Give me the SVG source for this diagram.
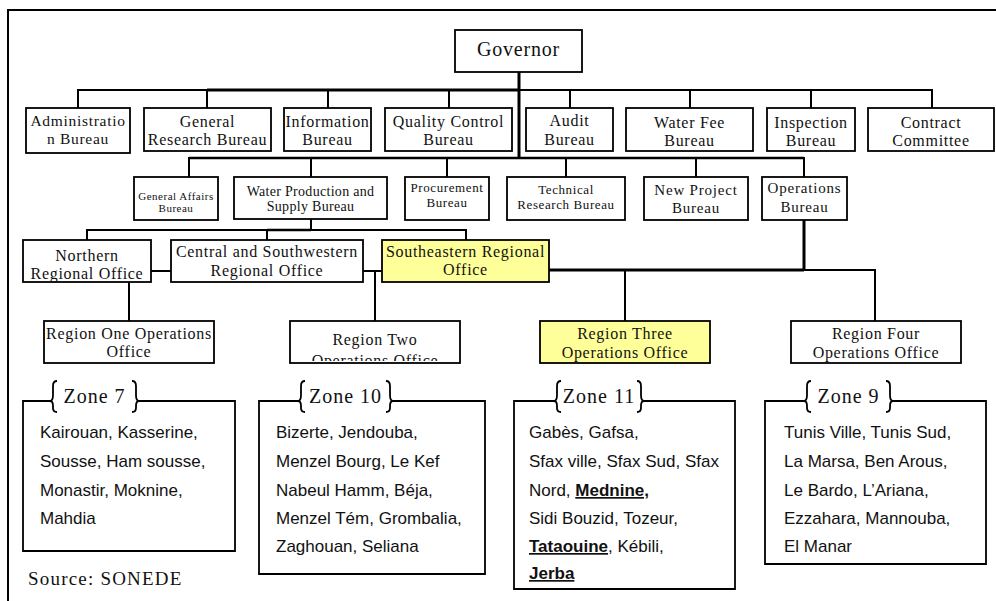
<svg xmlns="http://www.w3.org/2000/svg" width="996" height="601" viewBox="0 0 996 601">
<defs>
<style>
.box{fill:#fff;stroke:#000;stroke-width:1.8}
.hl{fill:#ffff99}
.t{font-family:"Liberation Serif","Times New Roman",serif;font-size:16px;letter-spacing:0.7px;text-anchor:middle;fill:#111}
.s14{font-size:14px;letter-spacing:0.3px}
.s15{font-size:15px;letter-spacing:0.8px}
.s13{font-size:13px;letter-spacing:0.6px}
.s11{font-size:11px;letter-spacing:0.5px}
.zl{font-family:"Liberation Serif","Times New Roman",serif;font-size:20px;letter-spacing:1px;text-anchor:middle;fill:#111}
.z{font-family:"Liberation Sans",Arial,sans-serif;font-size:17px;fill:#111}
.b{font-weight:bold;text-decoration:underline}
.c{stroke:#000;stroke-width:2;fill:none}
.ck{stroke:#000;stroke-width:3;fill:none}
.br{stroke:#000;stroke-width:1.8;fill:none}
</style>
<clipPath id="clip2"><rect x="290" y="321" width="170" height="40"/></clipPath>
</defs>
<rect width="996" height="601" fill="#fff"/>
<path d="M8,601 V10 H996" class="c"/>

<g id="connectors">
<line x1="519" y1="72" x2="519" y2="158" class="ck"/>
<path d="M78,108 V90 H932 V108" class="c"/>
<line x1="207" y1="90" x2="519" y2="90" class="ck"/>
<path d="M207,90 V108 M328,90 V108 M449,90 V108 M570,90 V108 M690,90 V108 M811,90 V108" class="c"/>
<path d="M189,177 V158 H804 V177" class="c"/>
<line x1="189" y1="158" x2="804" y2="158" stroke="#000" stroke-width="2.5"/>
<path d="M311,158 V177 M447,158 V177 M566,158 V177 M696,158 V177" class="c"/>
<path d="M311,219 V230 M87,240 V230 H466 V240 M267,230 V240" class="c"/>
<line x1="267" y1="230" x2="311" y2="230" stroke="#000" stroke-width="2.5"/>
<path d="M151,271 H171 M363,271 H382 M375,271 V321 M129,282 V321" class="c"/>
<line x1="804" y1="220" x2="804" y2="271" class="ck"/>
<line x1="549" y1="270" x2="804" y2="270" class="ck"/>
<path d="M804,270 H875 V321 M625,270 V321" class="c"/>
</g>

<g id="governor"><rect x="455" y="30" width="127" height="42" class="box"/><text x="518.5" y="56" class="t" style="font-size:20px;letter-spacing:0.8px">Governor</text></g>

<g id="admin"><rect x="26" y="108" width="104" height="45" class="box"/><text x="78" y="126" class="t" style="font-size:15.5px">Administratio</text><text x="78" y="144" class="t" style="font-size:15.5px">n Bureau</text></g>
<g id="general-research"><rect x="144" y="108" width="127" height="43" class="box"/><text x="207.5" y="127" class="t">General</text><text x="207.5" y="145" class="t">Research Bureau</text></g>
<g id="information"><rect x="284" y="108" width="87" height="43" class="box"/><text x="327.5" y="127" class="t">Information</text><text x="327.5" y="145" class="t">Bureau</text></g>
<g id="quality"><rect x="385" y="108" width="127" height="43" class="box"/><text x="448.5" y="127" class="t">Quality Control</text><text x="448.5" y="145" class="t">Bureau</text></g>
<g id="audit"><rect x="526" y="108" width="87" height="43" class="box"/><text x="569.5" y="126" class="t">Audit</text><text x="569.5" y="145" class="t">Bureau</text></g>
<g id="water-fee"><rect x="626" y="108" width="127" height="43" class="box"/><text x="689.5" y="128" class="t">Water Fee</text><text x="689.5" y="146" class="t">Bureau</text></g>
<g id="inspection"><rect x="767" y="108" width="88" height="43" class="box"/><text x="811" y="128" class="t">Inspection</text><text x="811" y="146" class="t">Bureau</text></g>
<g id="contract"><rect x="868" y="108" width="126" height="43" class="box"/><text x="931" y="128" class="t">Contract</text><text x="931" y="146" class="t">Committee</text></g>

<g id="general-affairs"><rect x="134" y="177" width="84" height="43" class="box"/><text x="176" y="200" class="t s11">General Affairs</text><text x="176" y="212" class="t s11">Bureau</text></g>
<g id="water-production"><rect x="234" y="177" width="153" height="42" class="box"/><text x="310.5" y="196" class="t s14">Water Production and</text><text x="310.5" y="211" class="t s14">Supply Bureau</text></g>
<g id="procurement"><rect x="405" y="177" width="84" height="43" class="box"/><text x="447" y="192" class="t s13">Procurement</text><text x="447" y="207" class="t s13">Bureau</text></g>
<g id="technical"><rect x="507" y="177" width="118" height="43" class="box"/><text x="566" y="194" class="t s13">Technical</text><text x="566" y="209" class="t s13">Research Bureau</text></g>
<g id="new-project"><rect x="644" y="177" width="104" height="43" class="box"/><text x="696" y="195" class="t s15">New Project</text><text x="696" y="213" class="t s15">Bureau</text></g>
<g id="operations"><rect x="762" y="177" width="85" height="43" class="box"/><text x="804.5" y="193" class="t s15">Operations</text><text x="804.5" y="212" class="t s15">Bureau</text></g>

<g id="northern"><rect x="23" y="240" width="128" height="42" class="box"/><text x="87" y="261" class="t">Northern</text><text x="87" y="279" class="t">Regional Office</text></g>
<g id="central"><rect x="171" y="240" width="192" height="42" class="box"/><text x="267" y="257" class="t">Central and Southwestern</text><text x="267" y="276" class="t">Regional Office</text></g>
<g id="southeastern"><rect x="382" y="240" width="167" height="42" class="box hl"/><text x="465.5" y="257" class="t">Southeastern Regional</text><text x="465.5" y="275" class="t">Office</text></g>

<g id="region-one"><rect x="44" y="321" width="170" height="42" class="box"/><text x="129" y="339" class="t">Region One Operations</text><text x="129" y="357" class="t">Office</text></g>
<g id="region-two"><rect x="290" y="321" width="170" height="42" class="box"/><g clip-path="url(#clip2)"><text x="375" y="345" class="t">Region Two</text><text x="375" y="366" class="t">Operations Office</text></g></g>
<g id="region-three"><rect x="540" y="321" width="170" height="42" class="box hl"/><text x="625" y="339" class="t">Region Three</text><text x="625" y="358" class="t">Operations Office</text></g>
<g id="region-four"><rect x="791" y="321" width="170" height="42" class="box"/><text x="876" y="339" class="t">Region Four</text><text x="876" y="358" class="t">Operations Office</text></g>

<g id="zone7">
<path d="M50,401 H23 V551 H235 V401 H139" class="br"/>
<path d="M57,381 Q53,381 53,386 V395 Q53,401 50,401 Q53,401 53,406 V408 Q53,412 57,412" class="br"/>
<path d="M132,381 Q136,381 136,386 V395 Q136,401 139,401 Q136,401 136,406 V408 Q136,412 132,412" class="br"/>
<text x="94.5" y="403" class="zl">Zone 7</text>
<text class="z"><tspan x="40" y="438">Kairouan, Kasserine,</tspan><tspan x="40" y="467">Sousse, Ham sousse,</tspan><tspan x="40" y="496">Monastir, Moknine,</tspan><tspan x="40" y="524">Mahdia</tspan></text>
</g>
<g id="zone10">
<path d="M298,401 H259 V574 H485 V401 H393" class="br"/>
<path d="M305,381 Q301,381 301,386 V395 Q301,401 298,401 Q301,401 301,406 V408 Q301,412 305,412" class="br"/>
<path d="M386,381 Q390,381 390,386 V395 Q390,401 393,401 Q390,401 390,406 V408 Q390,412 386,412" class="br"/>
<text x="345.5" y="403" class="zl">Zone 10</text>
<text class="z"><tspan x="276" y="438">Bizerte, Jendouba,</tspan><tspan x="276" y="467">Menzel Bourg, Le Kef</tspan><tspan x="276" y="496">Nabeul Hamm, Béja,</tspan><tspan x="276" y="524">Menzel Tém, Grombalia,</tspan><tspan x="276" y="552">Zaghouan, Seliana</tspan></text>
</g>
<g id="zone11">
<path d="M554,401 H514 V589 H735 V401 H644" class="br"/>
<path d="M561,381 Q557,381 557,386 V395 Q557,401 554,401 Q557,401 557,406 V408 Q557,412 561,412" class="br"/>
<path d="M637,381 Q641,381 641,386 V395 Q641,401 644,401 Q641,401 641,406 V408 Q641,412 637,412" class="br"/>
<text x="599" y="403" class="zl">Zone 11</text>
<text class="z"><tspan x="529" y="438">Gabès, Gafsa,</tspan><tspan x="529" y="467">Sfax ville, Sfax Sud, Sfax</tspan><tspan x="529" y="496">Nord, </tspan><tspan class="b">Mednine,</tspan><tspan x="529" y="524">Sidi Bouzid, Tozeur,</tspan><tspan x="529" y="552" class="b">Tataouine</tspan><tspan>, Kébili,</tspan><tspan x="529" y="579" class="b">Jerba</tspan></text>
</g>
<g id="zone9">
<path d="M804,401 H765 V564 H986 V401 H893" class="br"/>
<path d="M811,381 Q807,381 807,386 V395 Q807,401 804,401 Q807,401 807,406 V408 Q807,412 811,412" class="br"/>
<path d="M886,381 Q890,381 890,386 V395 Q890,401 893,401 Q890,401 890,406 V408 Q890,412 886,412" class="br"/>
<text x="848.5" y="403" class="zl">Zone 9</text>
<text class="z"><tspan x="784" y="438">Tunis Ville, Tunis Sud,</tspan><tspan x="784" y="467">La Marsa, Ben Arous,</tspan><tspan x="784" y="496">Le Bardo, L’Ariana,</tspan><tspan x="784" y="524">Ezzahara, Mannouba,</tspan><tspan x="784" y="552">El Manar</tspan></text>
</g>

<text x="28" y="585" style="font-family:'Liberation Serif','Times New Roman',serif;font-size:19px;letter-spacing:1.2px;fill:#111">Source: SONEDE</text>
</svg>
